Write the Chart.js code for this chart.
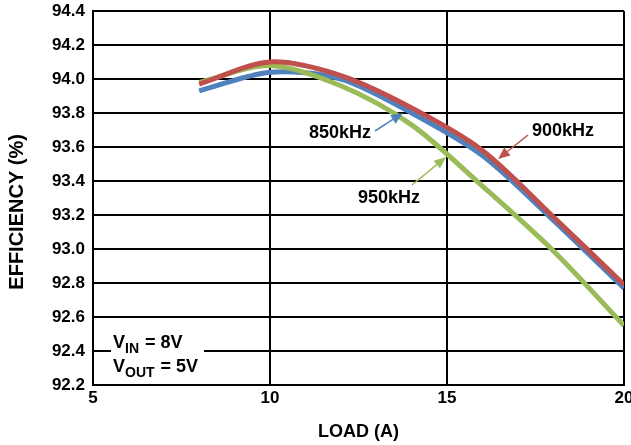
<!DOCTYPE html>
<html>
<head>
<meta charset="utf-8">
<script src="https://cdn.jsdelivr.net/npm/chart.js@4.4.0/dist/chart.umd.min.js"></script>
<style>
  html, body { margin: 0; padding: 0; background: #fff; }
  #wrap { width: 631px; height: 445px; }
</style>
</head>
<body>
<div id="wrap"><canvas id="Grafico" width="631" height="445"></canvas></div>
<script>
// load points (A)
const cargas = [8, 10, 12, 14, 16, 18, 20];
// efficiency (%) for each switching frequency
const ef900 = [93.97, 94.10, 94.02, 93.83, 93.58, 93.19, 92.79];
const ef850 = [93.93, 94.04, 94.00, 93.80, 93.55, 93.17, 92.77];
const ef950 = [93.98, 94.08, 93.96, 93.73, 93.37, 92.99, 92.55];
const xTicks = [5, 10, 15, 20];
const yTicks = [92.2, 92.4, 92.6, 92.8, 93.0, 93.2, 93.4, 93.6, 93.8, 94.0, 94.2, 94.4];

const rojo = '#C0504D';
const azul = '#4F81BD';
const verde = '#9BBB59';
const fuente = "'Liberation Sans', Arial, sans-serif";

function puntos(valores) {
  return cargas.map((c, i) => ({ x: c, y: valores[i] }));
}

// arrows and labels (canvas pixels)
const etiquetas = [
  { texto: '850kHz', color: azul, tx: 340, ty: 133, desde: [375, 131], hasta: [403, 113] },
  { texto: '900kHz', color: rojo, tx: 563, ty: 131, desde: [528, 135], hasta: [498, 159] },
  { texto: '950kHz', color: verde, tx: 389, ty: 198, desde: [412, 185], hasta: [446, 157] }
];

function flecha(ctx, a, b, color) {
  const ang = Math.atan2(b[1] - a[1], b[0] - a[0]);
  const largo = 12, ancho = 5;
  const bx = b[0] - largo * Math.cos(ang), by = b[1] - largo * Math.sin(ang);
  ctx.strokeStyle = color;
  ctx.fillStyle = color;
  ctx.lineWidth = 1.5;
  ctx.beginPath();
  ctx.moveTo(a[0], a[1]);
  ctx.lineTo(bx, by);
  ctx.stroke();
  ctx.beginPath();
  ctx.moveTo(b[0], b[1]);
  ctx.lineTo(bx + ancho * Math.sin(ang), by - ancho * Math.cos(ang));
  ctx.lineTo(bx - ancho * Math.sin(ang), by + ancho * Math.cos(ang));
  ctx.closePath();
  ctx.fill();
}

const anotaciones = {
  id: 'anotaciones',
  afterDatasetsDraw(chart) {
    const ctx = chart.ctx;
    ctx.save();
    etiquetas.forEach(e => {
      flecha(ctx, e.desde, e.hasta, e.color);
      ctx.fillStyle = '#000';
      ctx.font = 'bold 18px ' + fuente;
      ctx.textAlign = 'center';
      ctx.textBaseline = 'middle';
      ctx.fillText(e.texto, e.tx, e.ty);
    });

    // condiciones de prueba
    ctx.fillStyle = '#fff';
    ctx.fillRect(111, 334, 93, 46);
    ctx.fillStyle = '#000';
    ctx.textAlign = 'left';
    ctx.textBaseline = 'alphabetic';
    let x = 113;
    ctx.font = 'bold 18px ' + fuente;
    ctx.fillText('V', x, 348);
    x += ctx.measureText('V').width;
    ctx.font = 'bold 14px ' + fuente;
    ctx.fillText('IN', x, 353);
    x += ctx.measureText('IN').width + 1;
    ctx.font = 'bold 18px ' + fuente;
    ctx.fillText(' = 8V', x, 348);

    x = 113;
    ctx.fillText('V', x, 372);
    x += ctx.measureText('V').width;
    ctx.font = 'bold 14px ' + fuente;
    ctx.fillText('OUT', x, 377);
    x += ctx.measureText('OUT').width + 1;
    ctx.font = 'bold 18px ' + fuente;
    ctx.fillText(' = 5V', x, 372);
    ctx.restore();
  }
};

const config = {
  type: 'line',
  data: {
    datasets: [
      { label: '900kHz', data: puntos(ef900), borderColor: rojo, borderWidth: 5, pointRadius: 0, tension: 0.3, fill: false },
      { label: '950kHz', data: puntos(ef950), borderColor: verde, borderWidth: 5, pointRadius: 0, tension: 0.3, fill: false },
      { label: '850kHz', data: puntos(ef850), borderColor: azul, borderWidth: 5, pointRadius: 0, tension: 0.3, fill: false }
    ]
  },
  options: {
    responsive: false,
    animation: false,
    events: [],
    layout: { padding: { top: 11, right: 7, left: 0, bottom: 0 } },
    plugins: { legend: { display: false }, tooltip: { enabled: false } },
    scales: {
      x: {
        type: 'linear',
        min: 5,
        max: 20,
        afterBuildTicks: s => { s.ticks = xTicks.map(v => ({ value: v })); },
        afterFit: s => { s.height = 60; s.paddingLeft = 0; s.paddingRight = 0; },
        grid: { color: '#000', lineWidth: 2, drawTicks: false },
        border: { color: '#000', width: 2 },
        ticks: { color: '#000', padding: 3, font: { family: fuente, size: 17, weight: 'bold' } },
        title: { display: true, text: 'LOAD (A)', color: '#000', padding: 2, font: { family: fuente, size: 18, weight: 'bold' } }
      },
      y: {
        min: 92.2,
        max: 94.4,
        afterBuildTicks: s => { s.ticks = yTicks.map(v => ({ value: v })); },
        afterFit: s => { s.width = 93; s.paddingTop = 0; s.paddingBottom = 0; },
        grid: { color: '#000', lineWidth: 2, drawTicks: false },
        border: { color: '#000', width: 2 },
        ticks: {
          color: '#000',
          padding: 8,
          font: { family: fuente, size: 17, weight: 'bold' },
          callback: v => v.toFixed(1)
        },
        title: { display: true, text: 'EFFICIENCY (%)     ', color: '#000', padding: 5, font: { family: fuente, size: 20, weight: 'bold' } }
      }
    }
  },
  plugins: [anotaciones]
};

new Chart(document.getElementById('Grafico'), config);
</script>
</body>
</html>
